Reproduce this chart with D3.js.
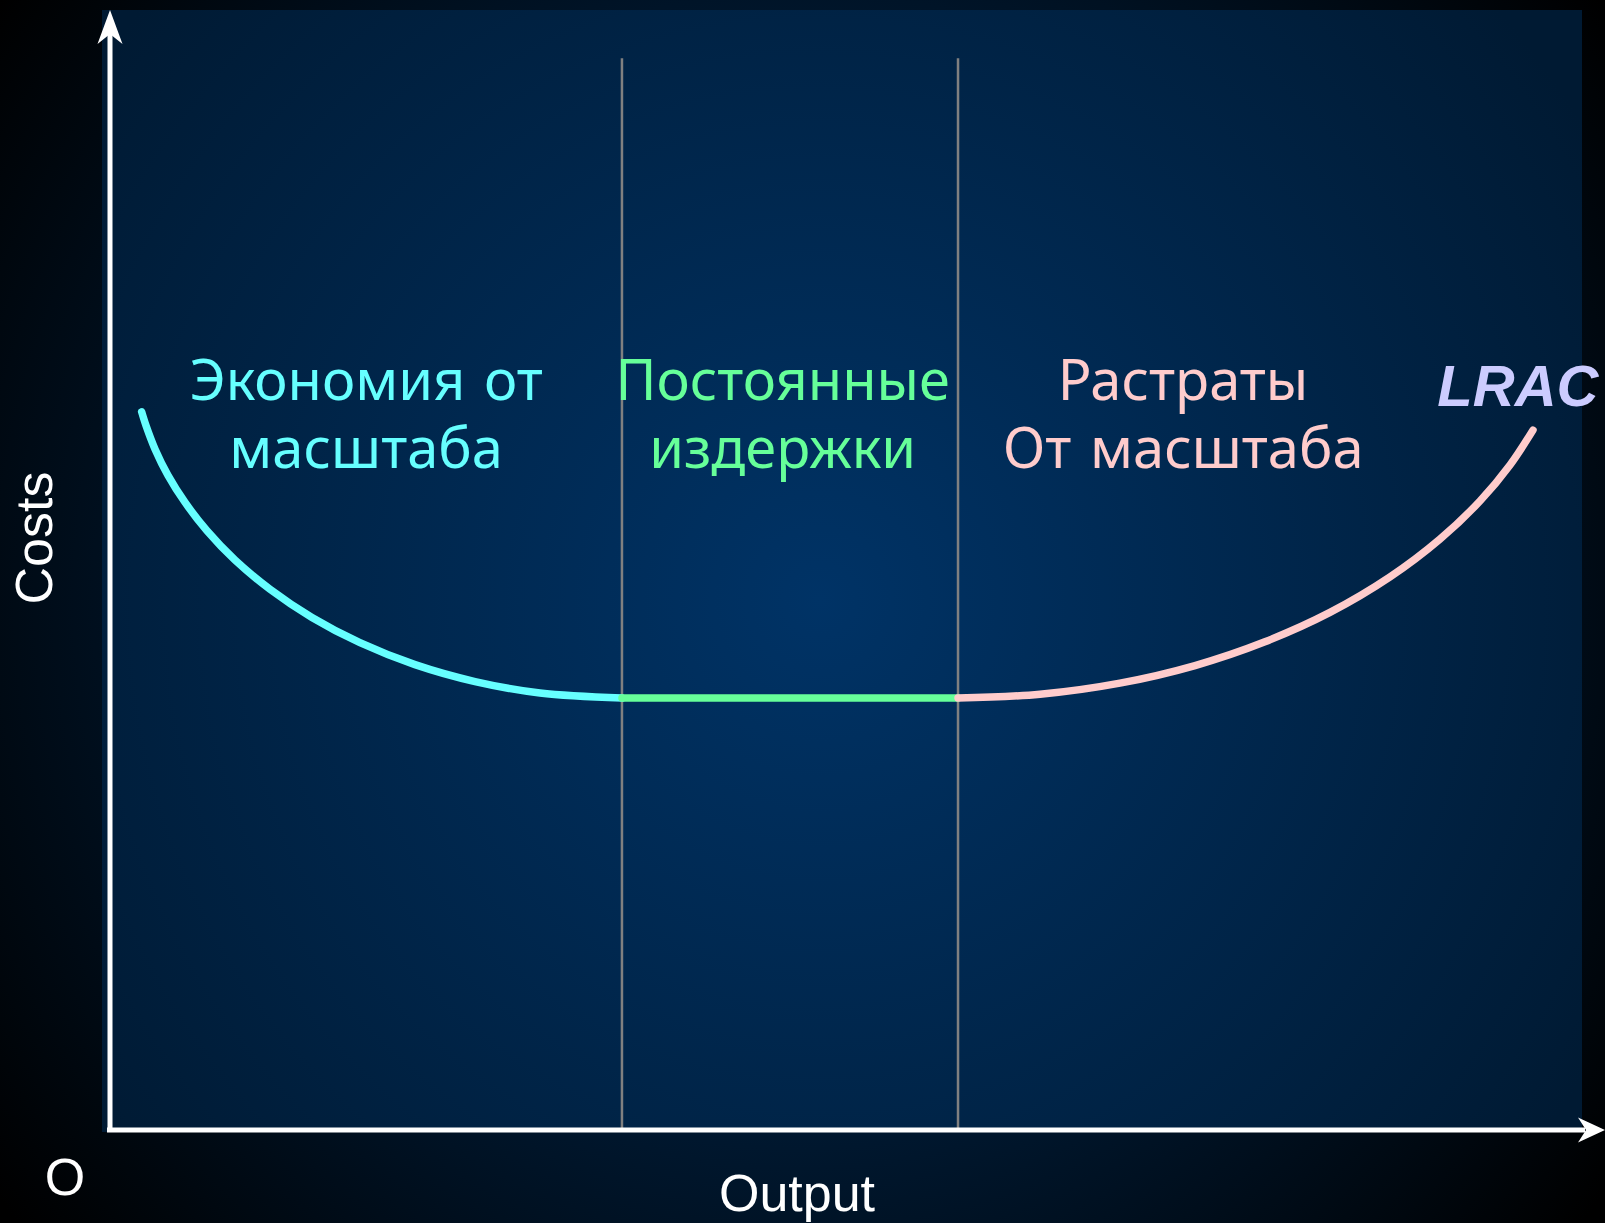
<!DOCTYPE html>
<html>
<head>
<meta charset="utf-8">
<script src="https://cdn.jsdelivr.net/npm/d3@7"></script>
<style>
  html, body { margin: 0; padding: 0; background: #000000; overflow: hidden; }
  svg { display: block; }
</style>
</head>
<body>
<div id="chart"></div>
<script>
// LRAC curve (output, cost) in 0..100 units
var economyCurve = [
    [2.15, 64.13], [2.45, 62.88], [3.06, 60.79], [3.94, 58.45], [5.10, 56.03],
    [6.59, 53.50], [8.49, 50.89], [10.87, 48.28], [13.72, 45.76], [16.98, 43.51],
    [20.72, 41.55], [24.80, 40.04], [29.21, 39.02], [34.78, 38.57]
];
var constantCurve = [
    [34.78, 38.57], [57.61, 38.57]
];
var diseconomyCurve = [
    [57.61, 38.57], [63.18, 38.91], [68.61, 39.90], [73.71, 41.47], [78.46, 43.59],
    [82.88, 46.21], [86.96, 49.38], [90.35, 52.75], [93.07, 56.16], [95.11, 59.38],
    [96.67, 62.49]
];
var dividers = [34.78, 57.61];
var dividerTop = 95.7;

var segmentColors = ["#66ffff", "#66ff99", "#ffcccc"];
var regionLines = [
    ["Экономия от", "масштаба"],
    ["Постоянные", "издержки"],
    ["Растраты", "От масштаба"]
];
var regionCenters = [17.4, 45.7, 72.9];
var lineCosts = [65.2, 59.1];

var curveLabel = "LRAC";
var xTitle = "Output";
var yTitle = "Costs";
var originLabel = "O";

var W = 1605, H = 1223;

var svg = d3.select("#chart").append("svg")
    .attr("width", W)
    .attr("height", H);

var defs = svg.append("defs");

// background gradients
var outerGrad = defs.append("radialGradient")
    .attr("id", "outerGrad")
    .attr("gradientUnits", "userSpaceOnUse")
    .attr("cx", 800).attr("cy", 600).attr("r", 1000);
outerGrad.append("stop").attr("offset", 0).attr("stop-color", "#003366");
outerGrad.append("stop").attr("offset", 1).attr("stop-color", "#000000");

var panelGrad = defs.append("radialGradient")
    .attr("id", "panelGrad")
    .attr("gradientUnits", "userSpaceOnUse")
    .attr("cx", 820).attr("cy", 600).attr("r", 900);
panelGrad.append("stop").attr("offset", 0).attr("stop-color", "#003366");
panelGrad.append("stop").attr("offset", 1).attr("stop-color", "#001a33");

svg.append("rect")
    .attr("width", W).attr("height", H)
    .attr("fill", "url(#outerGrad)");

var x = d3.scaleLinear().domain([0, 100]).range([110, 1582]);
var y = d3.scaleLinear().domain([0, 100]).range([1130, 10]);

svg.append("rect")
    .attr("x", 102).attr("y", 10)
    .attr("width", 1582 - 102).attr("height", 1122)
    .attr("fill", "url(#panelGrad)");

// vertical region dividers
svg.selectAll(".divider")
    .data(dividers)
    .enter().append("line")
    .attr("class", "divider")
    .attr("x1", function (d) { return x(d); })
    .attr("x2", function (d) { return x(d); })
    .attr("y1", y(0))
    .attr("y2", y(dividerTop))
    .attr("stroke", "#808080")
    .attr("stroke-width", 2.5);

// curve pieces
var line = d3.line()
    .x(function (d) { return x(d[0]); })
    .y(function (d) { return y(d[1]); })
    .curve(d3.curveCatmullRom.alpha(0.5));

svg.selectAll(".segment")
    .data([economyCurve, constantCurve, diseconomyCurve])
    .enter().append("path")
    .attr("class", "segment")
    .attr("d", line)
    .attr("fill", "none")
    .attr("stroke", function (d, i) { return segmentColors[i]; })
    .attr("stroke-width", 7.5)
    .attr("stroke-linecap", "round");

// axes with arrow heads
var axisColor = "#ffffff";
svg.append("line")
    .attr("x1", x(0)).attr("y1", y(0) + 2)
    .attr("x2", x(0)).attr("y2", y(100) + 20)
    .attr("stroke", axisColor).attr("stroke-width", 5);
svg.append("line")
    .attr("x1", x(0) - 3).attr("y1", y(0))
    .attr("x2", W - 20).attr("y2", y(0))
    .attr("stroke", axisColor).attr("stroke-width", 5);

function arrowUp(tx, ty) {
    return "M" + tx + "," + ty + " L" + (tx + 12.5) + "," + (ty + 34) +
        " L" + tx + "," + (ty + 24) + " L" + (tx - 12.5) + "," + (ty + 34) + "Z";
}
function arrowRight(tx, ty) {
    return "M" + tx + "," + ty + " L" + (tx - 27) + "," + (ty - 12.5) +
        " L" + (tx - 19) + "," + ty + " L" + (tx - 27) + "," + (ty + 12.5) + "Z";
}
svg.append("path").attr("d", arrowUp(x(0), y(100))).attr("fill", axisColor);
svg.append("path").attr("d", arrowRight(W, y(0))).attr("fill", axisColor);

// region labels
var comic = "'Comic Sans MS', 'Comic Neue', 'Noto Sans', 'Open Sans', sans-serif";
regionLines.forEach(function (lines, i) {
    svg.append("text")
        .attr("x", x(regionCenters[i]))
        .attr("text-anchor", "middle")
        .attr("fill", segmentColors[i])
        .style("font-family", comic)
        .style("font-size", "56px")
        .selectAll("tspan")
        .data(lines)
        .enter().append("tspan")
        .attr("x", x(regionCenters[i]))
        .attr("y", function (d, j) { return y(lineCosts[j]); })
        .text(function (d) { return d; });
});

// LRAC label
svg.append("text")
    .attr("x", x(96.7) + 65)
    .attr("y", y(64.6))
    .attr("text-anchor", "end")
    .attr("fill", "#ccccff")
    .style("font-family", "'Liberation Sans', Arial, sans-serif")
    .style("font-size", "58px")
    .style("font-weight", "bold")
    .style("font-style", "italic")
    .text(curveLabel);

// axis titles
var sans = "'Liberation Sans', Arial, sans-serif";
svg.append("text")
    .attr("x", 797).attr("y", 1211)
    .attr("text-anchor", "middle")
    .attr("fill", "#ffffff")
    .style("font-family", sans)
    .style("font-size", "52px")
    .text(xTitle);

svg.append("text")
    .attr("transform", "translate(52,538) rotate(-90)")
    .attr("text-anchor", "middle")
    .attr("fill", "#ffffff")
    .style("font-family", sans)
    .style("font-size", "52px")
    .text(yTitle);

svg.append("text")
    .attr("x", 65).attr("y", 1195)
    .attr("text-anchor", "middle")
    .attr("fill", "#ffffff")
    .style("font-family", sans)
    .style("font-size", "52px")
    .text(originLabel);
</script>
</body>
</html>
